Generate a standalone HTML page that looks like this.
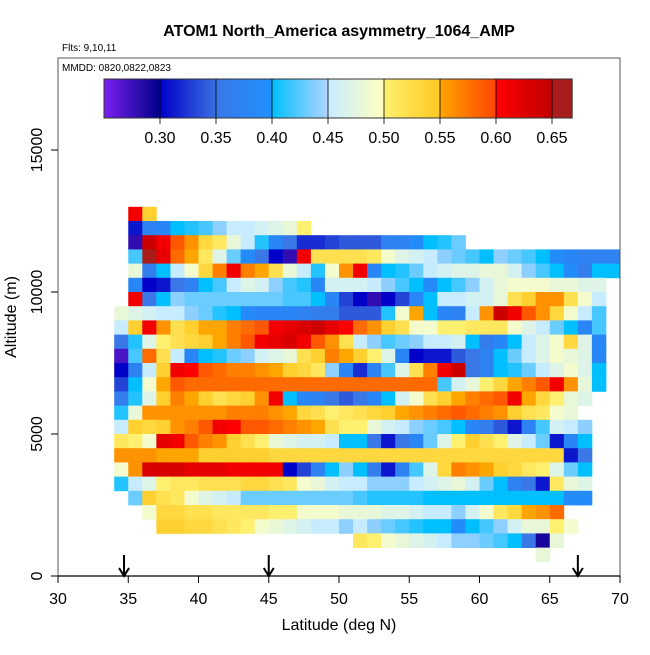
<!DOCTYPE html>
<html><head><meta charset="utf-8">
<style>
body{margin:0;background:#fff;}
svg text{font-family:"Liberation Sans",sans-serif;}
</style></head>
<body>
<svg id="chart" width="650" height="650" viewBox="0 0 650 650" xmlns="http://www.w3.org/2000/svg">
<text x="339" y="36" text-anchor="middle" font-size="16" font-weight="bold">ATOM1 North_America asymmetry_1064_AMP</text>
<text x="62" y="51" font-size="10">Flts: 9,10,11</text>
<g id="cells"></g>
<rect x="58" y="58" width="562" height="518" fill="none" stroke="#555" stroke-width="1"/>
<text x="62" y="71" font-size="10">MMDD: 0820,0822,0823</text>
<g id="cbar"></g>
<g id="axes"></g>
<text x="339" y="630" text-anchor="middle" font-size="16">Latitude (deg N)</text>
<text transform="translate(16,317) rotate(-90)" text-anchor="middle" font-size="16">Altitude (m)</text>
<g id="arrows"></g>
</svg>
<script>
const rowAlt=[12500,12000,11500,11000,10500,10000,9500,9000,8500,8000,7500,7000,6500,6000,5500,5000,4500,4000,3500,3000,2500,2000,1500,1000,500];
const rowStartLat=[35,35,35,35,35,35,35,34,34,34,34,34,34,34,34,34,34,34,34,34,35,36,37,51,64];
const rowValues=[
[.61,.54],
[.31,.37,.38,.40,.41,.42,.44,.45,.45,.46,.47,.48,.50],
[.28,.64,.61,.59,.56,.53,.51,.48,.45,.41,.38,.35,.32,.32,.33,.34,.34,.34,.37,.37,.39,.40,.41,.43],
[.42,.65,.62,.58,.55,.51,.47,.43,.39,.35,.30,.28,.61,.52,.52,.52,.52,.51,.49,.47,.46,.45,.44,.43,.42,.40,.44,.43,.42,.40,.39,.38,.37,.37,.37],
[.48,.36,.40,.45,.49,.53,.57,.61,.57,.55,.52,.48,.45,.41,.49,.56,.61,.38,.40,.41,.43,.45,.46,.47,.47,.48,.48,.46,.44,.42,.40,.39,.36,.40,.40],
[.38,.30,.31,.35,.37,.40,.42,.45,.47,.46,.44,.42,.41,.38,.46,.46,.46,.45,.44,.42,.40,.39,.40,.42,.44,.46,.48,.49,.49,.49,.48,.48,.47,.47],
[.61,.35,.40,.44,.43,.43,.43,.43,.43,.43,.43,.42,.42,.40,.38,.33,.30,.28,.30,.33,.38,.40,.45,.45,.46,.46,.48,.52,.54,.56,.56,.52,.49,.45],
[.48,.47,.46,.45,.45,.44,.43,.41,.40,.39,.38,.38,.38,.37,.36,.36,.34,.34,.34,.41,.49,.55,.40,.38,.37,.45,.56,.64,.61,.59,.56,.53,.49,.45,.42],
[.45,.54,.61,.56,.52,.54,.55,.55,.57,.58,.59,.61,.62,.63,.64,.62,.60,.58,.56,.54,.52,.49,.49,.50,.50,.51,.51,.51,.49,.47,.45,.43,.40,.38,.42],
[.35,.41,.47,.50,.52,.53,.54,.55,.57,.59,.61,.62,.63,.61,.59,.56,.52,.45,.44,.42,.43,.44,.45,.45,.46,.40,.36,.38,.40,.45,.47,.49,.53,.47,.38],
[.27,.42,.58,.52,.45,.38,.40,.41,.43,.44,.46,.47,.48,.52,.54,.57,.55,.54,.50,.47,.38,.30,.31,.31,.34,.35,.37,.40,.43,.45,.47,.49,.48,.47,.38],
[.30,.37,.45,.54,.61,.60,.59,.58,.57,.57,.56,.55,.54,.53,.51,.44,.38,.32,.37,.42,.47,.52,.57,.61,.64,.35,.37,.40,.41,.43,.45,.47,.49,.47,.40],
[.33,.40,.49,.55,.59,.58,.58,.58,.58,.58,.58,.58,.58,.58,.58,.58,.58,.58,.58,.58,.58,.58,.58,.42,.46,.48,.50,.53,.55,.57,.59,.61,.56,.48,.40],
[.36,.41,.47,.54,.57,.55,.54,.52,.53,.54,.56,.61,.40,.38,.37,.35,.34,.35,.38,.40,.46,.49,.52,.54,.55,.57,.58,.59,.61,.55,.53,.50,.48,.47],
[.41,.48,.56,.56,.56,.56,.56,.56,.57,.57,.57,.56,.55,.53,.52,.50,.51,.52,.53,.54,.55,.56,.57,.58,.59,.58,.57,.56,.54,.52,.51,.49,.48],
[.45,.54,.53,.54,.56,.57,.59,.61,.60,.59,.59,.58,.57,.56,.55,.52,.50,.50,.48,.46,.45,.44,.43,.42,.40,.38,.36,.34,.31,.37,.42,.46,.45,.44],
[.51,.50,.49,.62,.61,.59,.57,.56,.54,.52,.50,.48,.47,.46,.46,.45,.40,.40,.35,.31,.35,.38,.43,.47,.50,.54,.52,.50,.47,.45,.43,.31,.38,.40],
[.56,.56,.56,.55,.55,.55,.54,.54,.54,.54,.54,.53,.53,.53,.53,.53,.53,.53,.53,.53,.53,.53,.53,.53,.53,.53,.53,.53,.53,.53,.53,.53,.31,.35],
[.49,.56,.63,.63,.63,.62,.62,.62,.61,.61,.61,.61,.30,.33,.37,.40,.44,.40,.36,.31,.37,.42,.47,.53,.57,.56,.55,.54,.53,.51,.50,.47,.43,.40],
[.41,.45,.47,.50,.51,.51,.52,.52,.52,.53,.53,.52,.51,.49,.48,.46,.45,.45,.44,.44,.44,.45,.46,.47,.48,.46,.43,.40,.37,.35,.31,.51,.48,.47],
[.43,.54,.52,.51,.49,.47,.46,.45,.43,.43,.43,.43,.43,.43,.43,.43,.42,.41,.41,.41,.41,.40,.40,.40,.40,.40,.40,.40,.40,.40,.40,.39,.39],
[.49,.53,.53,.52,.52,.51,.51,.51,.51,.50,.50,.49,.49,.49,.48,.48,.48,.47,.47,.46,.45,.45,.44,.46,.49,.51,.53,.55,.56,.58],
[.54,.54,.53,.53,.52,.51,.50,.49,.48,.47,.46,.45,.45,.44,.45,.44,.43,.42,.41,.40,.40,.39,.40,.42,.44,.46,.48,.48,.50,.49],
[.51,.50,.49,.48,.47,.46,.45,.44,.44,.43,.42,.40,.35,.29,.48],
[.48]
];
const xTicks=[30,35,40,45,50,55,60,65,70];
const yTicks=[0,5000,10000,15000];
const cbTicks=[0.30,0.35,0.40,0.45,0.50,0.55,0.60,0.65];
const arrowLats=[34.7,45,67];

const NS='http://www.w3.org/2000/svg';
const X=lat=>58+(lat-30)*562/40;
const Y=alt=>576-alt*0.0284;
const CB=v=>104+(v-0.25)*1120;
const segs=[[0.25,'#7a1fef','#000088'],[0.30,'#0000c8','#3a6fe0'],[0.35,'#3a78e8','#1e90ff'],[0.40,'#00bfff','#b0d4ff'],[0.45,'#c8ecff','#ffffc0'],[0.50,'#fff070','#ffc820'],[0.55,'#ffa500','#ff4500'],[0.60,'#ff0000','#c00000'],[0.65,'#a81c1c','#a81c1c']];
function hx(h){return [1,3,5].map(i=>parseInt(h.substr(i,2),16));}
function color(v){
  let s=segs[0];
  for(const g of segs){if(v>=g[0])s=g;}
  let t=Math.max(0,Math.min(1,(v-s[0])/0.05));
  const a=hx(s[1]),b=hx(s[2]);
  return 'rgb('+a.map((c,i)=>Math.round(c+(b[i]-c)*t)).join(',')+')';
}
function mk(tag,attrs,parent){const e=document.createElementNS(NS,tag);for(const k in attrs)e.setAttribute(k,attrs[k]);parent.appendChild(e);return e;}

const cells=document.getElementById('cells');
rowValues.forEach((vals,r)=>{
  vals.forEach((v,i)=>{
    const lat=rowStartLat[r]+i;
    const x0=X(lat),x1=X(lat+1),y0=Y(rowAlt[r]+500),y1=Y(rowAlt[r]);
    const e=mk('rect',{x:x0.toFixed(2),y:y0.toFixed(2),width:(x1-x0+0.4).toFixed(2),height:(y1-y0+0.4).toFixed(2),fill:color(v)},cells);
    
    
  });
});

const cb=document.getElementById('cbar');
for(let v=0.25;v<0.668;v+=0.002){
  const e=mk('rect',{x:CB(v).toFixed(2),y:79,width:2.6,height:39,fill:color(v+0.001)},cb);
  
  
}
const cbf=mk('rect',{x:104,y:79,width:CB(0.668)-104,height:39,fill:'none',stroke:'#333','stroke-width':1},cb);


cbTicks.forEach(v=>{
  const l=mk('line',{x1:CB(v),x2:CB(v),y1:79,y2:124,stroke:'#000','stroke-width':0.8},cb);
  
  
  const t=mk('text',{x:CB(v),y:143,'text-anchor':'middle','font-size':16},cb);
  t.textContent=v.toFixed(2);
  
  
});

const ax=document.getElementById('axes');
xTicks.forEach(v=>{
  const l=mk('line',{x1:X(v),x2:X(v),y1:576,y2:583,stroke:'#000'},ax);
  
  
  const t=mk('text',{x:X(v),y:604,'text-anchor':'middle','font-size':16},ax);
  t.textContent=v;
  
  
});
yTicks.forEach(v=>{
  const l=mk('line',{x1:51,x2:58,y1:Y(v),y2:Y(v),stroke:'#000'},ax);
  
  
  const t=mk('text',{transform:'translate(42,'+Y(v)+') rotate(-90)','text-anchor':'middle','font-size':16},ax);
  t.textContent=v;
  
  
});
const bl=mk('line',{x1:58,x2:620,y1:576,y2:576,stroke:'#000','stroke-width':1.2},ax);



const ar=document.getElementById('arrows');
arrowLats.forEach(lat=>{
  const x=X(lat);
  const p=mk('path',{d:'M'+x+' 555 L'+x+' 576 M'+(x-5)+' 568 L'+x+' 576 L'+(x+5)+' 568',stroke:'#000','stroke-width':2,fill:'none'},ar);
  
  
});
</script>
</body></html>
